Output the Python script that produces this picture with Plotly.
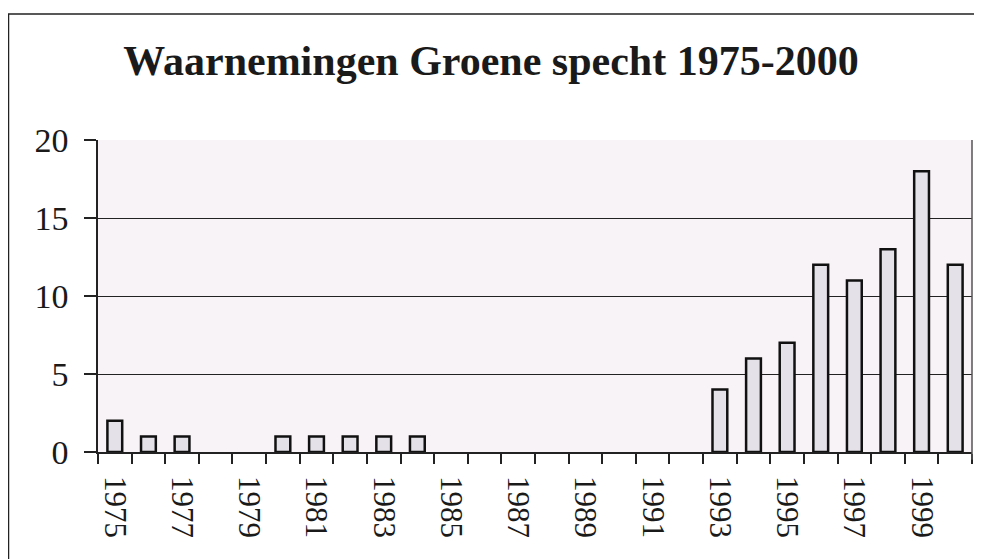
import plotly.graph_objects as go

years = [str(y) for y in range(1975, 2001)]
counts = [2, 1, 1, 0, 0, 1, 1, 1, 1, 1, 0, 0, 0, 0, 0, 0, 0, 0, 4, 6, 7, 12, 11, 13, 18, 12]
tick_labels = [y if i % 2 == 0 else "" for i, y in enumerate(years)]
y_ticks = [0, 5, 10, 15, 20]
title_text = "Waarnemingen Groene specht 1975-2000"

SERIF = "Liberation Serif, Times New Roman, serif"

fig = go.Figure()
fig.add_trace(go.Bar(
    x=years, y=counts,
    marker=dict(color="#e5e1e8",
                line=dict(color="#111111", width=[2.5 if c > 0 else 0 for c in counts])),
    showlegend=False,
))

fig.update_layout(
    width=982, height=559,
    margin=dict(l=90, r=18, t=132, b=115),
    paper_bgcolor="white",
    plot_bgcolor="#f8f3f7",
    bargap=0.56,
    title=dict(text="<b>" + title_text + "</b>", x=483 / 982, xref="container",
               y=1 - 52 / 559, yref="container", xanchor="center", yanchor="middle",
               font=dict(family=SERIF, size=42, color="#1a1a1a")),
    font=dict(family=SERIF, color="#1a1a1a"),
)

fig.update_xaxes(
    type="category",
    tickmode="array", tickvals=years, ticktext=tick_labels,
    tickson="boundaries",
    ticks="outside", ticklen=10, tickwidth=1.5, tickcolor="#222222",
    tickangle=90,
    tickfont=dict(family=SERIF, size=31, color="#1a1a1a"),
    ticklabelstandoff=16,
    showgrid=False,
    showline=True, linecolor="#222222", linewidth=1.5,
    range=[-0.5, len(years) - 0.5],
)

fig.update_yaxes(
    range=[0, 20],
    tickmode="array", tickvals=y_ticks,
    ticks="outside", ticklen=12, tickwidth=1.5, tickcolor="#222222",
    tickfont=dict(family=SERIF, size=34, color="#1a1a1a"),
    ticklabelstandoff=9,
    showgrid=True, gridcolor="#222222", gridwidth=1.3,
    zeroline=False,
    showline=True, linecolor="#222222", linewidth=1.5,
)

# right border of plot area
fig.add_shape(type="line", xref="paper", yref="paper", x0=1, x1=1, y0=-0.025, y1=1,
              line=dict(color="#555555", width=1.5))
# outer frame of the scanned figure
fig.add_shape(type="rect", xref="paper", yref="paper",
              x0=(0.5 - 90) / 874, x1=1.3, y0=-1.0, y1=(444 - 6) / 312,
              line=dict(color="#222222", width=1.5), fillcolor="rgba(0,0,0,0)")

fig.write_html("out.html")
